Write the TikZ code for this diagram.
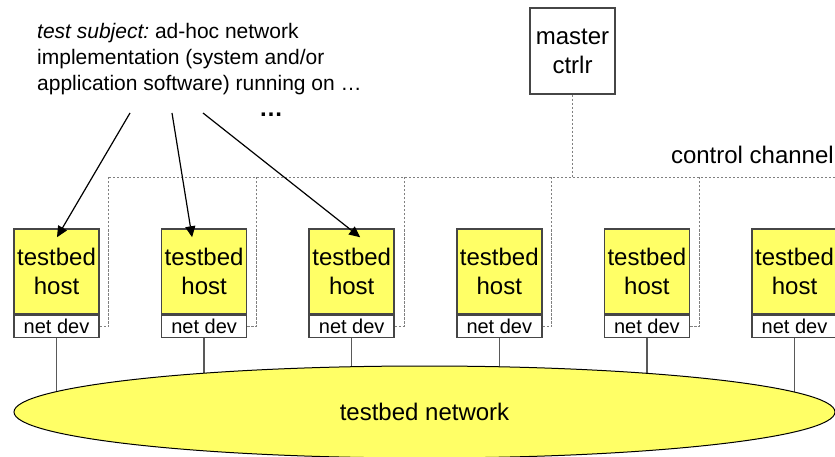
\documentclass[tikz,border=0pt]{standalone}
\usepackage{fontspec}
\setmainfont{Liberation Sans}
\usepackage{tikz}
\usetikzlibrary{positioning,arrows.meta,shapes.geometric,backgrounds}
\definecolor{hostyellow}{RGB}{255,255,102}
\definecolor{boxgray}{RGB}{70,70,70}

\begin{document}
\begin{tikzpicture}[
		x=1pt,y=-1pt,
		hostbox/.style={
			draw=boxgray,
			line width=1.5pt,
			fill=hostyellow,
			minimum width=85pt,
			minimum height=85pt,
			inner sep=0pt,
			align=center,
			font=\fontsize{24}{29}\selectfont
		},
		devbox/.style={
			draw=boxgray,
			line width=1.5pt,
			fill=white,
			minimum width=85pt,
			minimum height=22pt,
			inner sep=0pt,
			font=\fontsize{20}{24}\selectfont
		},
		masterbox/.style={
			draw=boxgray,
			line width=1.5pt,
			fill=white,
			minimum width=85pt,
			minimum height=86pt,
			inner sep=0pt,
			align=center,
			font=\fontsize{24}{29}\selectfont
		},
		netell/.style={
			ellipse,
			draw=black,
			line width=1pt,
			fill=hostyellow,
			minimum width=821pt,
			minimum height=92pt,
			inner sep=0pt,
			font=\fontsize{24}{29}\selectfont
		},
		ctrlline/.style={
			draw=gray,
			line width=0.8pt,
			dash pattern=on 2.5pt off 1.5pt
		},
		subjarrow/.style={
			-{Triangle[length=11pt,width=10pt]},
			line width=1.2pt
		}
		]
		
		\useasboundingbox (0,0) rectangle (835,457);
		
		\node[anchor=north west,align=left,inner sep=0pt,font=\fontsize{21}{26}\selectfont] (subject) at (37,23)
			{\textit{test subject:}\hspace{-2pt} ad-hoc network\\implementation (system and/or\\application software) running on …};
		\node[font=\fontsize{24}{26}\selectfont\bfseries] (more) at (271,115) {…};
		
		\node[masterbox] (master) at (572.5,51) {master\\ctrlr};
		\node[anchor=base east,font=\fontsize{24}{29}\selectfont,inner sep=0pt] (cclabel) at (834,164) {control channel};
		\coordinate (bus) at (835,177);
		
		% hosts with their network devices
		\foreach \i in {1,...,6} {
			\node[hostbox] (host\i) at ({56.5+147.6*(\i-1)},271.5) {testbed\\host};
			\node[devbox,below=0pt of host\i] (dev\i) {net dev};
			\draw[ctrlline] (dev\i.east) -- ++(9,0) coordinate (tap\i) -- (tap\i |- bus);
		}
		\draw[ctrlline] (tap1 |- bus) -- (bus);
		\draw[ctrlline] (master) -- (master |- bus);
		
		\node[netell] (net) at (424.5,412) {testbed network};
		\begin{scope}[on background layer]
			\foreach \i in {1,...,6}
				\draw[draw=gray!70!black,line width=1.5pt] (dev\i.south) -- (dev\i.south |- net.center);
		\end{scope}
		
		\coordinate (s1) at (130,113);
		\coordinate (s2) at (172,113);
		\coordinate (s3) at (203,113);
		\draw[subjarrow] (s1) -- ([xshift=0.5pt,yshift=-9pt]host1.north);
		\draw[subjarrow] (s2) -- ([xshift=-12pt,yshift=-9pt]host2.north);
		\draw[subjarrow] (s3) -- ([xshift=8.5pt,yshift=-9pt]host3.north);
		
	\end{tikzpicture}
\end{document}
